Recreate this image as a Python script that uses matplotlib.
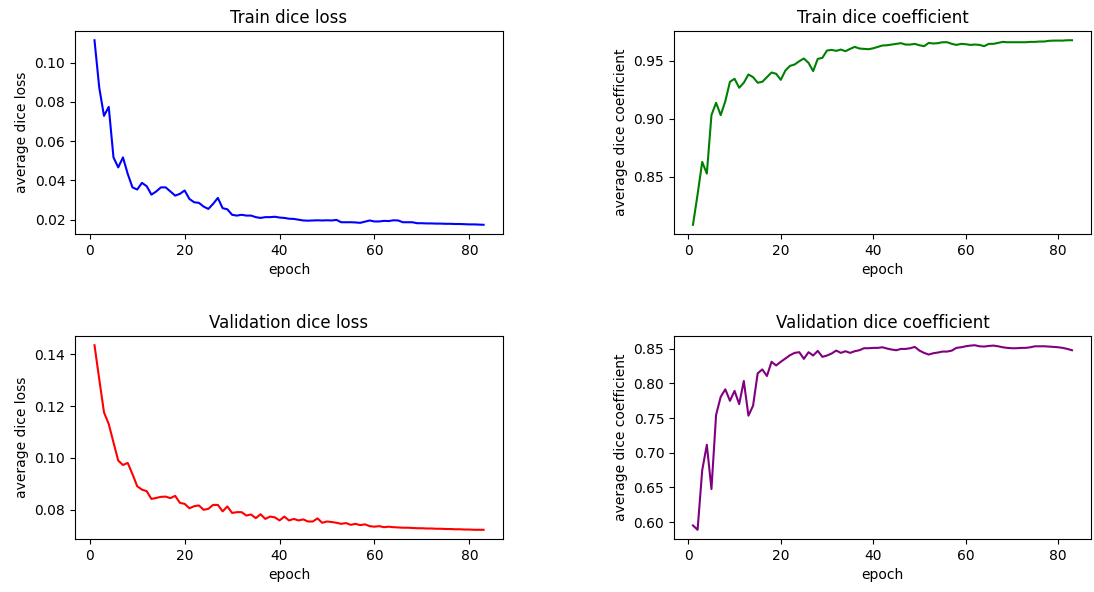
import matplotlib

matplotlib.use("Agg")
import matplotlib.pyplot as plt
from matplotlib.ticker import MultipleLocator

# per-epoch values (83 epochs)
epochs = list(range(1, 84))

train_loss = [
    0.1115, 0.0873, 0.0729, 0.0775, 0.0517, 0.0466, 0.0517, 0.0433, 0.0364, 0.0353,
    0.0387, 0.0370, 0.0327, 0.0343, 0.0364, 0.0364, 0.0343, 0.0322, 0.0331, 0.0348,
    0.0305, 0.0288, 0.0285, 0.0266, 0.0254, 0.0280, 0.0310, 0.0258, 0.0252, 0.0224,
    0.0220, 0.0224, 0.0220, 0.0220, 0.0212, 0.0208, 0.0212, 0.0212, 0.0214, 0.0210,
    0.0208, 0.0204, 0.0203, 0.0199, 0.0195, 0.0194, 0.0195, 0.0196, 0.0195, 0.0196,
    0.0195, 0.0198, 0.0186, 0.0186, 0.0186, 0.0185, 0.0183, 0.0189, 0.0195, 0.0190,
    0.0190, 0.0193, 0.0192, 0.0196, 0.0195, 0.0186, 0.0186, 0.0186, 0.0181, 0.0181,
    0.0180, 0.0180, 0.0179, 0.0179, 0.0178, 0.0178, 0.0177, 0.0177, 0.0176, 0.0175,
    0.0175, 0.0174, 0.0173,
]

train_dice = [
    0.8089, 0.8350, 0.8629, 0.8529, 0.9031, 0.9137, 0.9031, 0.9151, 0.9317, 0.9343,
    0.9266, 0.9309, 0.9380, 0.9357, 0.9309, 0.9317, 0.9357, 0.9397, 0.9386, 0.9334,
    0.9414, 0.9454, 0.9466, 0.9494, 0.9517, 0.9480, 0.9409, 0.9514, 0.9523, 0.9586,
    0.9591, 0.9583, 0.9594, 0.9580, 0.9600, 0.9617, 0.9603, 0.9600, 0.9597, 0.9605,
    0.9617, 0.9629, 0.9631, 0.9637, 0.9643, 0.9649, 0.9637, 0.9637, 0.9643, 0.9631,
    0.9623, 0.9651, 0.9646, 0.9649, 0.9657, 0.9657, 0.9643, 0.9634, 0.9643, 0.9640,
    0.9634, 0.9637, 0.9634, 0.9623, 0.9643, 0.9643, 0.9651, 0.9660, 0.9657, 0.9657,
    0.9657, 0.9657, 0.9657, 0.9660, 0.9660, 0.9663, 0.9663, 0.9669, 0.9671, 0.9671,
    0.9671, 0.9674, 0.9674,
]

val_loss = [
    0.1435, 0.1304, 0.1176, 0.1131, 0.1060, 0.0990, 0.0973, 0.0981, 0.0938, 0.0891,
    0.0878, 0.0872, 0.0842, 0.0846, 0.0850, 0.0851, 0.0845, 0.0854, 0.0827, 0.0823,
    0.0806, 0.0814, 0.0817, 0.0800, 0.0804, 0.0819, 0.0819, 0.0794, 0.0813, 0.0788,
    0.0791, 0.0791, 0.0778, 0.0782, 0.0768, 0.0783, 0.0765, 0.0774, 0.0771, 0.0759,
    0.0774, 0.0759, 0.0765, 0.0759, 0.0763, 0.0755, 0.0755, 0.0767, 0.0750, 0.0755,
    0.0753, 0.0750, 0.0746, 0.0749, 0.0742, 0.0746, 0.0741, 0.0744, 0.0737, 0.0735,
    0.0737, 0.0733, 0.0735, 0.0733, 0.0732, 0.0731, 0.0731, 0.0730, 0.0729, 0.0729,
    0.0728, 0.0728, 0.0727, 0.0727, 0.0726, 0.0726, 0.0725, 0.0725, 0.0724, 0.0724,
    0.0723, 0.0723, 0.0723,
]

val_dice = [
    0.5953, 0.5891, 0.6748, 0.7115, 0.6477, 0.7543, 0.7805, 0.7914, 0.7748, 0.7891,
    0.7700, 0.8033, 0.7534, 0.7677, 0.8143, 0.8200, 0.8105, 0.8310, 0.8257, 0.8310,
    0.8357, 0.8405, 0.8438, 0.8448, 0.8352, 0.8448, 0.8400, 0.8467, 0.8381, 0.8400,
    0.8429, 0.8471, 0.8438, 0.8462, 0.8438, 0.8462, 0.8476, 0.8505, 0.8505, 0.8510,
    0.8510, 0.8519, 0.8500, 0.8486, 0.8476, 0.8495, 0.8495, 0.8505, 0.8524, 0.8471,
    0.8438, 0.8414, 0.8433, 0.8443, 0.8457, 0.8457, 0.8471, 0.8510, 0.8519, 0.8533,
    0.8543, 0.8548, 0.8533, 0.8529, 0.8538, 0.8543, 0.8533, 0.8519, 0.8510, 0.8505,
    0.8505, 0.8510, 0.8510, 0.8519, 0.8533, 0.8533, 0.8533, 0.8529, 0.8524, 0.8519,
    0.8510, 0.8495, 0.8476,
]

PANELS = [
    ("Train dice loss", "average dice loss", train_loss, "blue", 0.02),
    ("Train dice coefficient", "average dice coefficient", train_dice, "green", 0.05),
    ("Validation dice loss", "average dice loss", val_loss, "red", 0.02),
    ("Validation dice coefficient", "average dice coefficient", val_dice, "purple", 0.05),
]

# axes boxes in figure fractions (left, bottom, width, height)
POSITIONS = [
    (0.0686, 0.6047, 0.3912, 0.3429),
    (0.6161, 0.6047, 0.3811, 0.3429),
    (0.0686, 0.0895, 0.3912, 0.3429),
    (0.6161, 0.0895, 0.3811, 0.3429),
]


def main() -> None:
    fig, axes = plt.subplots(2, 2, figsize=(10.94, 5.92), dpi=100)
    for ax, (title, ylabel, values, color, step), pos in zip(axes.flat, PANELS, POSITIONS):
        ax.plot(epochs, values, color=color)
        ax.set_title(title)
        ax.set_xlabel("epoch")
        ax.set_ylabel(ylabel)
        ax.yaxis.set_major_locator(MultipleLocator(step))
        ax.set_position(pos)

    fig.savefig("out.png", dpi=100)
    plt.close(fig)


if __name__ == "__main__":
    main()
